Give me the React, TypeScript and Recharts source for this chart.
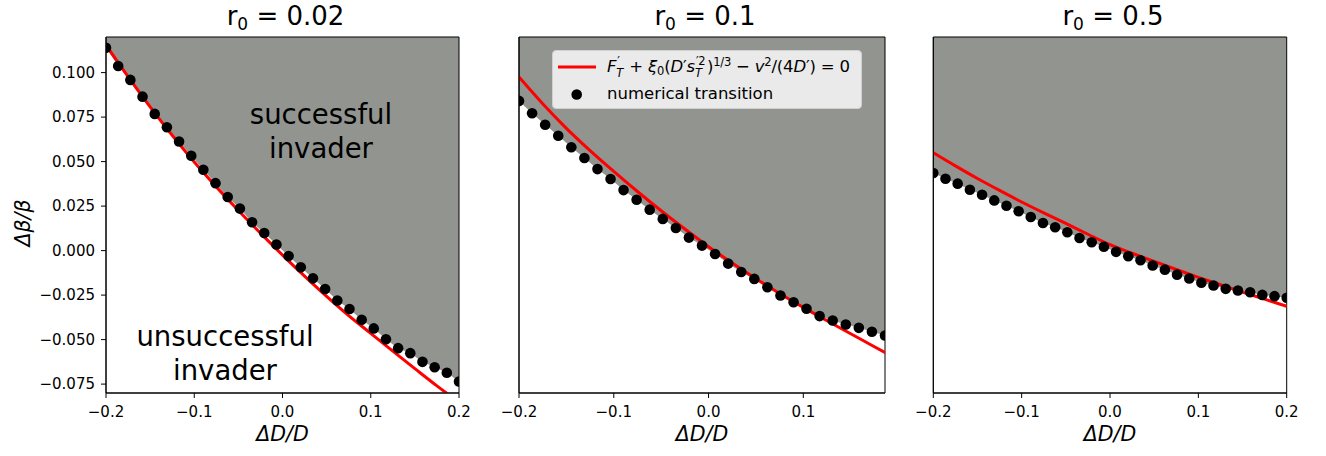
import React from 'react';
import { ComposedChart, Area, Line, Scatter, XAxis, YAxis, ReferenceArea, Legend } from 'recharts';

// x positions of the numerical transition points (evenly spaced in the picture)
const dotX = [
  -0.2, -0.1862, -0.1724, -0.1586, -0.1448, -0.131, -0.1172, -0.1034, -0.0897, -0.0759,
  -0.0621, -0.0483, -0.0345, -0.0207, -0.0069, 0.0069, 0.0207, 0.0345, 0.0483, 0.0621,
  0.0759, 0.0897, 0.1034, 0.1172, 0.131, 0.1448, 0.1586, 0.1724, 0.1862, 0.2,
];

// x positions where the analytic (red) curve was read
const curveX = [
  -0.2, -0.175, -0.15, -0.125, -0.1, -0.075, -0.05, -0.025, 0,
  0.025, 0.05, 0.075, 0.1, 0.125, 0.15, 0.175, 0.2,
];

const dotsR002 = [
  0.114, 0.1037, 0.0959, 0.0865, 0.0768, 0.0693, 0.0613, 0.0533, 0.0454, 0.0379,
  0.0301, 0.0236, 0.0159, 0.0099, 0.0034, -0.0031, -0.0094, -0.0156, -0.0216, -0.028,
  -0.0328, -0.0389, -0.0437, -0.0498, -0.0548, -0.0576, -0.0625, -0.0655, -0.0686, -0.0735,
];
const dotsR01 = [
  0.0841, 0.0772, 0.0707, 0.0645, 0.0581, 0.052, 0.0458, 0.0402, 0.034, 0.0286,
  0.023, 0.0178, 0.0127, 0.0073, 0.0028, -0.0019, -0.0073, -0.012, -0.0159, -0.0206,
  -0.0252, -0.029, -0.0327, -0.0368, -0.0393, -0.0415, -0.0434, -0.0456, -0.0477,
];
const dotsR05 = [
  0.0436, 0.0404, 0.0376, 0.0342, 0.0314, 0.0282, 0.0252, 0.0221, 0.0189, 0.0155,
  0.0131, 0.0103, 0.0071, 0.0047, 0.0022, -0.0007, -0.0032, -0.0054, -0.0084, -0.0107,
  -0.0135, -0.0157, -0.0181, -0.0196, -0.0215, -0.0224, -0.0234, -0.0249, -0.0256, -0.0265,
];

const curveR002 = [
  0.1155, 0.0978, 0.0808, 0.0648, 0.0498, 0.0358, 0.0225, 0.0098, -0.0025,
  -0.0143, -0.0257, -0.0365, -0.0465, -0.0565, -0.0663, -0.076, -0.0852,
];
const curveR01 = [
  0.0975, 0.0825, 0.0687, 0.0562, 0.0445, 0.0332, 0.0224, 0.0121, 0.0022,
  -0.007, -0.0158, -0.0241, -0.0319, -0.0394, -0.0467, -0.054, -0.0612,
];
const curveR05 = [
  0.055, 0.0476, 0.0405, 0.0338, 0.0273, 0.0212, 0.0153, 0.0092, 0.0033,
  -0.0015, -0.0061, -0.0106, -0.015, -0.0192, -0.0233, -0.0273, -0.0313,
];

const r0Labels = ['0.02', '0.1', '0.5'];
const yTicks = [-0.075, -0.05, -0.025, 0, 0.025, 0.05, 0.075, 0.1];
const xTicks = [-0.2, -0.1, 0, 0.1, 0.2];

const FONT = '"DejaVu Sans", sans-serif';
const GRAY = '#929490';
const Y_MIN = -0.08;
const Y_MAX = 0.12;

const toPoints = (xs: number[], ys: number[]) => ys.map((y, i) => ({ x: xs[i], y }));
const fmt = (d: number) => (v: number) => v.toFixed(d).replace('-', '\u2212');

const Dot = (p: any) => <circle cx={p.cx} cy={p.cy} r={5.3} fill="#000" />;

// stacked superscript / subscript, positioned from the baseline
const SS = ({ sup, sub, w }: { sup: React.ReactNode; sub: React.ReactNode; w: number }) => (
  <span style={{ position: 'relative', display: 'inline-block', width: w, height: 0 }}>
    <span style={{ position: 'absolute', left: 1, top: -16, fontSize: 11.5, lineHeight: '11.5px' }}>
      {sup}
    </span>
    <span style={{ position: 'absolute', left: 0, top: -4, fontSize: 11.5, lineHeight: '11.5px' }}>
      {sub}
    </span>
  </span>
);

const small = { fontSize: 11.5, lineHeight: 0 } as const;

const LegendBox = () => (
  <div
    style={{
      position: 'relative',
      width: 310,
      height: 59,
      boxSizing: 'border-box',
      background: 'rgba(255,255,255,0.8)',
      border: '1px solid #d0d0d0',
      borderRadius: 4,
      fontFamily: FONT,
      fontSize: 16.5,
      color: '#000',
      whiteSpace: 'nowrap',
    }}
  >
    <svg style={{ position: 'absolute', left: 4, top: 0 }} width={50} height={58}>
      <line x1={1} y1={16} x2={39} y2={16} stroke="#ff0000" strokeWidth={3} />
      <circle cx={19.7} cy={43.5} r={5.3} fill="#000" />
    </svg>
    <div style={{ position: 'absolute', left: 54, top: 5, height: 22, lineHeight: '22px', letterSpacing: -0.2 }}>
      <i>F</i>
      <SS sup="′" sub={<i>T</i>} w={8} />
      {' + '}
      <i>ξ</i>
      <span style={{ ...small, position: 'relative', top: 3 }}>0</span>(<i>D</i>′<i>s</i>
      <SS sup="′2" sub={<i>T</i>} w={12} />)
      <span style={{ ...small, position: 'relative', top: -6 }}>1/3</span>
      {' − '}
      <i>v</i>
      <span style={{ ...small, position: 'relative', top: -6 }}>2</span>/(4<i>D</i>′) = 0
    </div>
    <div style={{ position: 'absolute', left: 54, top: 32, height: 22, lineHeight: '22px' }}>
      numerical transition
    </div>
  </div>
);

type PanelProps = {
  left: number;
  width: number;
  yAxisWidth: number;
  marginRight: number;
  xMax: number;
  xTickValues: number[];
  dots: number[];
  curve: number[];
  r0: string;
  first?: boolean;
  legend?: boolean;
};

const Panel = (p: PanelProps) => {
  const dots = toPoints(dotX, p.dots);
  const curve = toPoints(curveX, p.curve);

  const bottomLabel = (lp: any) => {
    const vb = lp.viewBox || {};
    const cx = vb.x + vb.width / 2;
    return (
      <g fontFamily={FONT} fill="#000">
        <text x={cx} y={441} textAnchor="middle" fontSize={20.5} fontStyle="italic">
          ΔD/D
        </text>
        <text x={cx + 3} y={25} textAnchor="middle" fontSize={26} style={{ whiteSpace: 'pre' }}>
          r<tspan dy={4.5} fontSize={17}>0</tspan>
          <tspan dy={-4.5}>{' = ' + p.r0}</tspan>
        </text>
        {p.first && (
          <g fontSize={27.5}>
            <text x={321} y={124} textAnchor="middle">successful</text>
            <text x={321} y={158} textAnchor="middle">invader</text>
            <text x={225} y={346} textAnchor="middle">unsuccessful</text>
            <text x={225} y={380} textAnchor="middle">invader</text>
          </g>
        )}
      </g>
    );
  };

  const leftLabel = () => (
    <text
      x={30}
      y={223}
      transform="rotate(-90 30 223)"
      textAnchor="middle"
      fontSize={20.5}
      fontStyle="italic"
      fontFamily={FONT}
      fill="#000"
    >
      Δβ/β
    </text>
  );

  return (
    <div style={{ position: 'absolute', left: p.left, top: 0 }}>
      <ComposedChart
        width={p.width}
        height={456}
        margin={{ top: 37, right: p.marginRight, bottom: 13, left: 0 }}
      >
        <XAxis
          type="number"
          dataKey="x"
          domain={[-0.2, p.xMax]}
          allowDataOverflow
          ticks={p.xTickValues}
          tickFormatter={fmt(1)}
          height={50}
          tickSize={5}
          tickMargin={8}
          axisLine={{ stroke: '#000' }}
          tickLine={{ stroke: '#000' }}
          tick={{ fill: '#000', fontSize: 15, fontFamily: FONT }}
          label={bottomLabel}
        />
        <YAxis
          type="number"
          domain={[Y_MIN, Y_MAX]}
          allowDataOverflow
          ticks={yTicks}
          tickFormatter={fmt(3)}
          width={p.yAxisWidth}
          tickSize={5}
          tickMargin={6}
          axisLine={{ stroke: '#000' }}
          tickLine={{ stroke: '#000' }}
          tick={p.first ? { fill: '#000', fontSize: 15, fontFamily: FONT } : false}
          label={p.first ? leftLabel : undefined}
        />
        <Area
          data={dots}
          dataKey="y"
          type="linear"
          baseValue="dataMax"
          stroke="none"
          fill={GRAY}
          fillOpacity={1}
          isAnimationActive={false}
        />
        <Scatter data={dots} dataKey="y" shape={Dot} isAnimationActive={false} />
        <Line
          data={curve}
          dataKey="y"
          type="monotone"
          stroke="#ff0000"
          strokeWidth={3}
          dot={false}
          isAnimationActive={false}
        />
        <ReferenceArea
          x1={-0.2}
          x2={p.xMax}
          y1={Y_MIN}
          y2={Y_MAX}
          fill="none"
          fillOpacity={0}
          stroke="#000"
          strokeWidth={1}
        />
        {p.legend && (
          <Legend
            layout="vertical"
            align="center"
            verticalAlign="middle"
            content={() => <LegendBox />}
            wrapperStyle={{ left: 82, top: 50, width: 310, height: 59 }}
          />
        )}
      </ComposedChart>
    </div>
  );
};

export default function App() {
  return (
    <div
      style={{
        position: 'absolute',
        left: 0,
        top: 0,
        width: 1326,
        height: 456,
        background: '#fff',
        overflow: 'hidden',
      }}
    >
      <Panel
        left={0}
        width={490}
        yAxisWidth={106}
        marginRight={31}
        xMax={0.2}
        xTickValues={xTicks}
        dots={dotsR002}
        curve={curveR002}
        r0={r0Labels[0]}
        first
      />
      <Panel
        left={470}
        width={440}
        yAxisWidth={49}
        marginRight={25}
        xMax={0.1862}
        xTickValues={xTicks.slice(0, 4)}
        dots={dotsR01}
        curve={curveR01}
        r0={r0Labels[1]}
        legend
      />
      <Panel
        left={890}
        width={436}
        yAxisWidth={43.3}
        marginRight={39.3}
        xMax={0.2}
        xTickValues={xTicks}
        dots={dotsR05}
        curve={curveR05}
        r0={r0Labels[2]}
      />
    </div>
  );
}
